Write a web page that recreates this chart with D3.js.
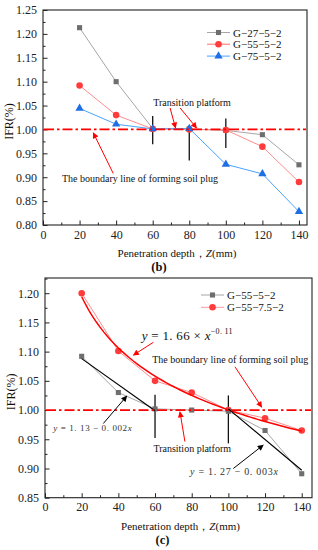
<!DOCTYPE html>
<html>
<head>
<meta charset="utf-8">
<script src="https://cdn.jsdelivr.net/npm/d3@7"></script>
<style>
  body { margin: 0; background: #fff; }
  svg { display: block; }
  svg text { font-family: "Liberation Serif", "Times New Roman", serif; }
</style>
</head>
<body>
<script>
// ---- data ----
var depth = [20, 40, 60, 80, 100, 120, 140];

// panel (b)
var ifrG27 = [1.213, 1.100, 1.002, 1.001, 0.998, 0.989, 0.926];
var ifrG55 = [1.092, 1.030, 1.001, 1.000, 0.999, 0.964, 0.890];
var ifrG75 = [1.044, 1.011, 1.001, 1.002, 0.927, 0.907, 0.828];
var namesB = ["G\u221227\u22125\u22122", "G\u221255\u22125\u22122", "G\u221275\u22125\u22122"];

// panel (c)
var ifrG55c = [1.092, 1.030, 1.002, 1.000, 0.998, 0.965, 0.891];
var ifrG557 = [1.200, 1.101, 1.050, 1.030, 1.000, 0.986, 0.965];
var namesC = ["G\u221255\u22125\u22122", "G\u221255\u22127.5\u22122"];
var powerFit = { a: 1.66, b: -0.11, from: 20, to: 140 };
var linFit1 = [[20, 1.088], [60, 0.999]];
var linFit2 = [[100, 1.002], [140, 0.897]];

var yTicksB = [0.80, 0.85, 0.90, 0.95, 1.00, 1.05, 1.10, 1.15, 1.20, 1.25];
var yTicksC = [0.85, 0.90, 0.95, 1.00, 1.05, 1.10, 1.15, 1.20];
var xTicks = [0, 20, 40, 60, 80, 100, 120, 140];

var FONT = "'Liberation Serif', 'Times New Roman', serif";
var W = 318, H = 550;
var svg = d3.select("body").append("svg").attr("width", W).attr("height", H);

var defs = svg.append("defs");
function arrowDef(id, col) {
    defs.append("marker").attr("id", id)
        .attr("viewBox", "0 0 10 10").attr("refX", 9).attr("refY", 5)
        .attr("markerWidth", 7).attr("markerHeight", 6).attr("orient", "auto")
        .append("path").attr("d", "M0,0 L10,5 L0,10 z").attr("fill", col);
}
arrowDef("arRed", "#f00");
arrowDef("arBlk", "#000");

var symSquare = d3.symbol().type(d3.symbolSquare).size(26);
var symCircle = d3.symbol().type(d3.symbolCircle).size(34);
var symTri = d3.symbol().type(d3.symbolTriangle).size(30);

function makePanel(o) {
    var x = d3.scaleLinear().domain(o.xDom).range([o.left, o.right]);
    var y = d3.scaleLinear().domain(o.yDom).range([o.bottom, o.top]);
    var g = svg.append("g");

    // minor ticks
    var minorY = d3.range(o.yDom[0] + 0.025, o.yDom[1], 0.05);
    g.append("g").attr("transform", "translate(" + o.left + ",0)")
        .call(d3.axisLeft(y).tickValues(minorY).tickSizeInner(-2.5).tickSizeOuter(0).tickFormat(""))
        .call(function (s) { s.select(".domain").remove(); });
    g.append("g").attr("transform", "translate(0," + o.bottom + ")")
        .call(d3.axisBottom(x).tickValues(d3.range(10, 141, 20)).tickSizeInner(-2.5).tickSizeOuter(0).tickFormat(""))
        .call(function (s) { s.select(".domain").remove(); });

    // major ticks
    var ya = g.append("g").attr("transform", "translate(" + o.left + ",0)")
        .call(d3.axisLeft(y).tickValues(o.yTicks).tickFormat(d3.format(".2f"))
            .tickSizeInner(-4.5).tickSizeOuter(0).tickPadding(6));
    var xa = g.append("g").attr("transform", "translate(0," + o.bottom + ")")
        .call(d3.axisBottom(x).tickValues(xTicks).tickSizeInner(-4.5).tickSizeOuter(0).tickPadding(5));
    [ya, xa].forEach(function (a) {
        a.attr("font-family", FONT);
        a.select(".domain").remove();
        a.selectAll("text").attr("font-size", 12).attr("fill", "#222").attr("font-family", FONT);
    });
    g.selectAll(".tick line").attr("stroke", "#222");

    // frame
    g.append("rect").attr("x", o.left).attr("y", o.top)
        .attr("width", o.right - o.left).attr("height", o.bottom - o.top)
        .attr("fill", "none").attr("stroke", "#222").attr("stroke-width", 1.1);

    // axis titles
    var xt = g.append("text").attr("x", (o.left + o.right) / 2 + 2).attr("y", o.bottom + 32)
        .attr("text-anchor", "middle").attr("font-size", 11).attr("fill", "#111");
    xt.append("tspan").text("Penetration depth\uff0c");
    xt.append("tspan").attr("font-style", "italic").text("Z");
    xt.append("tspan").text("(mm)");
    g.append("text").attr("transform", "translate(" + (o.left - 30) + "," + ((o.top + o.bottom) / 2 + 4) + ") rotate(-90)")
        .attr("text-anchor", "middle").attr("font-size", 12).attr("fill", "#111").text("IFR(%)");
    g.append("text").attr("x", (o.left + o.right) / 2 - 16).attr("y", o.bottom + 46)
        .attr("text-anchor", "middle").attr("font-size", 12.5).attr("font-weight", "bold")
        .attr("fill", "#111").text(o.tag);

    return { x: x, y: y, g: g };
}

function boundaryLine(p) {
    var d = p.x.domain();
    p.g.append("line").attr("x1", p.x(d[0]) + 1).attr("x2", p.x(d[1]) - 1)
        .attr("y1", p.y(1)).attr("y2", p.y(1))
        .attr("stroke", "#f00").attr("stroke-width", 1.8)
        .attr("stroke-dasharray", "10,3,2.5,3");
}

function series(p, vals, lineCol, lineW, markCol, sym) {
    var pts = depth.map(function (d, i) { return [d, vals[i]]; });
    p.g.append("path").datum(pts)
        .attr("d", d3.line().x(function (d) { return p.x(d[0]); }).y(function (d) { return p.y(d[1]); }))
        .attr("fill", "none").attr("stroke", lineCol).attr("stroke-width", lineW);
    p.g.selectAll(null).data(pts).enter().append("path")
        .attr("transform", function (d) { return "translate(" + p.x(d[0]) + "," + p.y(d[1]) + ")"; })
        .attr("d", sym).attr("fill", markCol);
}

function vline(p, xv, y0, y1) {
    p.g.append("line").attr("x1", p.x(xv)).attr("x2", p.x(xv))
        .attr("y1", p.y(y0)).attr("y2", p.y(y1))
        .attr("stroke", "#111").attr("stroke-width", 1.3);
}

function arrow(p, a, b, col) {
    p.g.append("line").attr("x1", p.x(a[0])).attr("y1", p.y(a[1]))
        .attr("x2", p.x(b[0])).attr("y2", p.y(b[1]))
        .attr("stroke", col === "red" ? "#f00" : "#000").attr("stroke-width", 1)
        .attr("marker-end", col === "red" ? "url(#arRed)" : "url(#arBlk)");
}

function label(p, xv, yv, txt, size, anchor) {
    return p.g.append("text").attr("x", p.x(xv)).attr("y", p.y(yv))
        .attr("font-size", size || 10).attr("fill", "#111").attr("font-family", FONT)
        .attr("text-anchor", anchor || "start").text(txt);
}

function legend(p, x0, y0, dy, items) {
    items.forEach(function (it, i) {
        var yy = y0 + i * dy;
        p.g.append("line").attr("x1", x0).attr("x2", x0 + 23).attr("y1", yy).attr("y2", yy)
            .attr("stroke", it.line).attr("stroke-width", it.w || 1);
        p.g.append("path").attr("transform", "translate(" + (x0 + 11.5) + "," + yy + ")")
            .attr("d", it.sym).attr("fill", it.mark);
        p.g.append("text").attr("x", x0 + 26).attr("y", yy + 4)
            .attr("font-size", 11).attr("fill", "#111").attr("font-family", FONT).text(it.name);
    });
}

// ---------------- panel (b) ----------------
var pb = makePanel({ left: 43, right: 307, top: 10, bottom: 225,
    xDom: [0, 144.4], yDom: [0.80, 1.25], yTicks: yTicksB, tag: "(b)" });

vline(pb, 60, 1.028, 0.969);
vline(pb, 80, 1.008, 0.935);
vline(pb, 100, 1.023, 0.961);
series(pb, ifrG27, "#a6a6a6", 1, "#6e6e6e", symSquare);
series(pb, ifrG55, "#ff8c8c", 1, "#ff3b3b", symCircle);
series(pb, ifrG75, "#4aa3ff", 1, "#1e6fe6", symTri);
boundaryLine(pb);

label(pb, 81.5, 1.0495, "Transition platform", 10, "middle");
arrow(pb, [69.5, 1.045], [72.5, 1.003], "red");
arrow(pb, [75, 1.045], [84, 1.003], "red");
label(pb, 10.4, 0.891, "The boundary line of forming soil plug", 10, "start");
arrow(pb, [38.4, 0.908], [27.5, 0.993], "red");

legend(pb, 207, 32.5, 11.8, [
    { name: namesB[0], line: "#a6a6a6", mark: "#6e6e6e", sym: symSquare },
    { name: namesB[1], line: "#ff9a9a", mark: "#ff3b3b", sym: symCircle, w: 1.5 },
    { name: namesB[2], line: "#4aa3ff", mark: "#1e6fe6", sym: symTri }
]);

// ---------------- panel (c) ----------------
var pc = makePanel({ left: 45, right: 312, top: 278, bottom: 497.7,
    xDom: [0, 145.6], yDom: [0.85, 1.226], yTicks: yTicksC, tag: "(c)" });

vline(pc, 60, 1.026, 0.952);
vline(pc, 100, 1.025, 0.943);
series(pc, ifrG557, "#ff8c8c", 1, "#ff3b3b", symCircle);
series(pc, ifrG55c, "#a6a6a6", 1, "#6e6e6e", symSquare);

// fitted curves
var fitPts = d3.range(powerFit.from, powerFit.to + 0.1, 2).map(function (v) {
    return [v, powerFit.a * Math.pow(v, powerFit.b)];
});
var lineGen = d3.line().x(function (d) { return pc.x(d[0]); }).y(function (d) { return pc.y(d[1]); });
pc.g.append("path").datum(fitPts).attr("d", lineGen)
    .attr("fill", "none").attr("stroke", "#f00").attr("stroke-width", 1.5);
[linFit1, linFit2].forEach(function (l) {
    pc.g.append("path").datum(l).attr("d", lineGen)
        .attr("fill", "none").attr("stroke", "#000").attr("stroke-width", 1.2);
});
boundaryLine(pc);

// equation labels
var eq = label(pc, 52.7, 1.120, "", 13, "start").attr("letter-spacing", 0.3);
eq.append("tspan").attr("font-style", "italic").text("y");
eq.append("tspan").text(" = 1. 66 \u00d7 ");
eq.append("tspan").attr("font-style", "italic").text("x");
eq.append("tspan").attr("font-size", 8).attr("dy", -6).text("\u22120. 11");
arrow(pc, [59.1, 1.116], [48.2, 1.094], "red");

label(pc, 58.5, 1.080, "The boundary line of forming soil plug", 10, "start");
arrow(pc, [103.6, 1.074], [118.2, 1.005], "red");

label(pc, 59.1, 0.928, "Transition platform", 10, "start");
arrow(pc, [76.3, 0.946], [73.6, 0.997], "red");

var eq1 = label(pc, 4.5, 0.964, "", 9, "start").attr("fill", "#333").attr("letter-spacing", 0.6);
eq1.append("tspan").attr("font-style", "italic").text("y");
eq1.append("tspan").text(" = 1. 13 \u2212 0. 002");
eq1.append("tspan").attr("font-style", "italic").text("x");
arrow(pc, [31.8, 0.977], [44.6, 1.024], "black");

var eq2 = label(pc, 79.1, 0.889, "", 10, "start").attr("fill", "#333").attr("letter-spacing", 0.7);
eq2.append("tspan").attr("font-style", "italic").text("y");
eq2.append("tspan").text(" = 1. 27 \u2212 0. 003");
eq2.append("tspan").attr("font-style", "italic").text("x");
arrow(pc, [102.7, 0.900], [119, 0.940], "black");

legend(pc, 201, 295, 12.3, [
    { name: namesC[0], line: "#a6a6a6", mark: "#6e6e6e", sym: symSquare },
    { name: namesC[1], line: "#ff9a9a", mark: "#ff3b3b", sym: symCircle }
]);
</script>
</body>
</html>
